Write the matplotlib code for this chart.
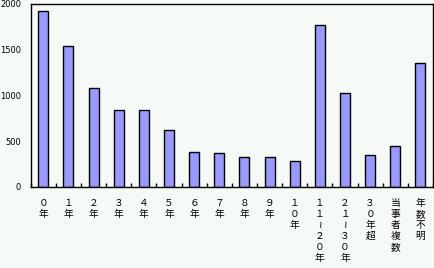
import matplotlib
matplotlib.use("Agg")
import matplotlib.pyplot as plt
import numpy as np

categories = ["０年", "１年", "２年", "３年", "４年", "５年", "６年", "７年", "８年", "９年",
              "１０年", "１１≀２０年", "２１≀３０年", "３０年超", "当事者複数", "年数不明"]
values = [1915, 1533, 1076, 836, 836, 625, 378, 367, 324, 324, 280, 1762, 1021, 345, 443, 1348]
yticks = [0, 500, 1000, 1500, 2000]

bg = "#F5FAF6"
fig = plt.figure(figsize=(4.34, 2.68), dpi=100, facecolor=bg)
ax = fig.add_axes([30.7/434, 81/268, 402.3/434, 183.5/268], facecolor=bg)

x = np.arange(len(categories))
ax.bar(x, values, width=0.4, color="#9999FF", edgecolor="black", linewidth=1.0)

ax.set_xlim(-0.5, len(categories) - 0.5)
ax.set_ylim(0, 2000)
ax.set_yticks(yticks)
ax.set_yticklabels([str(v) for v in yticks], fontsize=6, family=["DejaVu Sans"])
ax.tick_params(axis="y", length=0, pad=7)

ax.set_xticks(x)
ax.set_xticklabels(["\n".join(c) for c in categories], fontsize=7,
                   family=["Noto Sans CJK JP", "DejaVu Sans"], linespacing=1.12, va="top")
ax.tick_params(axis="x", length=0, pad=8)
ax.set_xticks(np.arange(-0.5, len(categories), 1.0), minor=True)
ax.tick_params(axis="x", which="minor", direction="in", length=3, width=1, color="black")

for s in ax.spines.values():
    s.set_linewidth(1.0)
    s.set_color("black")

fig.savefig("out.png", dpi=100, facecolor=bg)
